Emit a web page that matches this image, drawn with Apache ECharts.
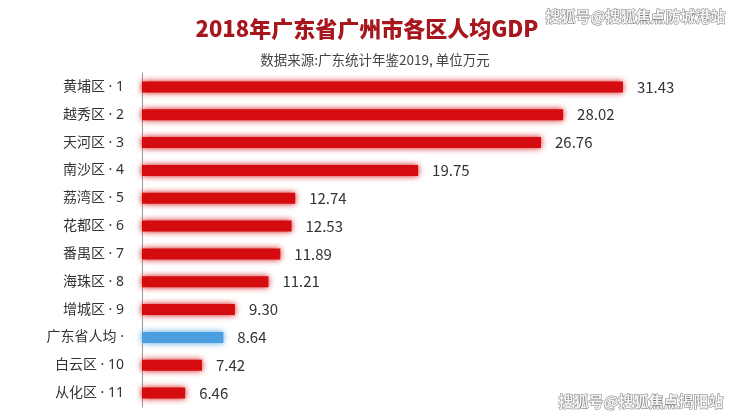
<!DOCTYPE html>
<html>
<head>
    <meta charset="UTF-8">
    <title>2018年广东省广州市各区人均GDP</title>
    <script src="https://cdn.jsdelivr.net/npm/echarts@6/dist/echarts.min.js"></script>
    <style>
        html, body { margin: 0; padding: 0; background: #fff; }
    </style>
</head>
<body>
<div id="chart" style="width:740px;height:417px;"></div>
<script type="text/javascript">

    // 各区名称(含排名)
    var districts = ['黄埔区 · 1', '越秀区 · 2', '天河区 · 3', '南沙区 · 4', '荔湾区 · 5', '花都区 · 6',
        '番禺区 · 7', '海珠区 · 8', '增城区 · 9', '广东省人均 ·', '白云区 · 10', '从化区 · 11'];

    // 人均GDP, 单位万元
    var gdpValues = [31.43, 28.02, 26.76, 19.75, 12.74, 12.53, 11.89, 11.21, 9.30, 8.64, 7.42, 6.46];

    var provinceName = '广东省人均 ·';

    var red = '#d40c0f';
    var blue = '#4b9fe1';

    var barData = gdpValues.map(function (v, i) {
        var c = districts[i] === provinceName ? blue : red;
        return {
            value: v,
            itemStyle: {color: c, shadowColor: c}
        };
    });

    var myChart = echarts.init(document.getElementById('chart'));

    myChart.setOption({
        backgroundColor: '#fff',
        animation: false,
        title: [{
            text: '2018年广东省广州市各区人均GDP',
            left: 362,
            top: 13,
            textAlign: 'center',
            textStyle: {
                fontFamily: 'Noto Sans CJK SC',
                fontSize: 22,
                fontWeight: 900,
                color: '#a8161d'
            }
        }, {
            text: '数据来源:广东统计年鉴2019, 单位万元',
            left: 370,
            top: 48,
            textAlign: 'center',
            textStyle: {
                fontFamily: 'Noto Sans CJK SC',
                fontSize: 13.5,
                fontWeight: 'normal',
                color: '#444'
            }
        }],
        graphic: [{
            type: 'text',
            right: 14,
            top: 8,
            style: {
                text: '搜狐号@搜狐焦点防城港站',
                font: 'bold 15px "Noto Sans CJK SC"',
                fill: '#f4f4f4',
                stroke: '#7a7a7a',
                lineWidth: 1
            }
        }, {
            type: 'text',
            right: 16,
            top: 393,
            style: {
                text: '搜狐号@搜狐焦点揭阳站',
                font: 'bold 15px "Noto Sans CJK SC"',
                fill: '#f4f4f4',
                stroke: '#7a7a7a',
                lineWidth: 1
            }
        }],
        grid: {
            left: 142,
            right: 37,
            top: 73,
            bottom: 10
        },
        xAxis: {
            type: 'value',
            min: 4,
            max: 36,
            show: false
        },
        yAxis: {
            type: 'category',
            inverse: true,
            data: districts,
            axisLine: {show: true, lineStyle: {color: '#9a9a9a', width: 1}},
            axisTick: {show: false},
            axisLabel: {
                fontFamily: '"Noto Sans", "Noto Sans CJK SC"',
                fontSize: 14,
                color: '#333',
                margin: 18
            },
            splitLine: {show: false}
        },
        series: [{
            type: 'bar',
            data: barData,
            barWidth: 11,
            clip: true,
            itemStyle: {
                shadowBlur: 6
            },
            label: {
                show: true,
                position: 'right',
                distance: 14,
                fontFamily: 'Noto Sans CJK SC',
                fontSize: 15,
                color: '#333',
                formatter: function (p) {
                    return p.value.toFixed(2);
                }
            }
        }]
    });
</script>
</body>
</html>
